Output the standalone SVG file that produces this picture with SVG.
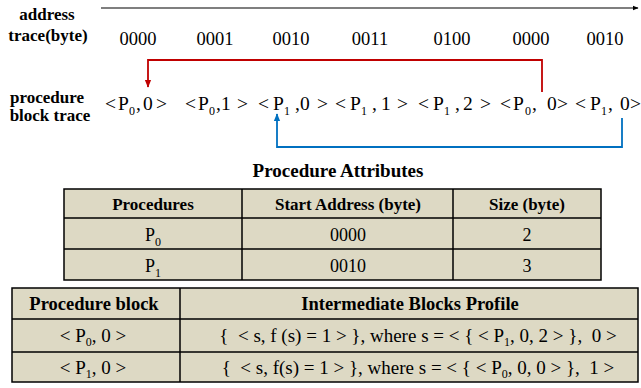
<svg xmlns="http://www.w3.org/2000/svg" width="641" height="388" viewBox="0 0 641 388">
  <style>
    text { font-family: "Liberation Serif", "Times New Roman", serif; fill: #000; }
    .lbl { font-size: 17px; font-weight: bold; text-anchor: middle; }
    .addr { font-size: 18.5px; text-anchor: middle; }
    .tr { font-size: 19.5px; }
    .sub { font-size: 12px; }
    .th { font-size: 17px; font-weight: bold; text-anchor: middle; }
    .th2 { font-size: 18.5px; font-weight: bold; text-anchor: middle; }
    .td { font-size: 18px; text-anchor: middle; }
    .td2 { font-size: 19px; text-anchor: middle; }
    .title { font-size: 19px; font-weight: bold; text-anchor: middle; }
    .cell { fill: #DDD9C4; stroke: #000; stroke-width: 1.5; }
    .grid { stroke: #000; stroke-width: 1.5; fill: none; }
  </style>
  <defs>
    <marker id="headBlack" viewBox="0 0 10 10" refX="9" refY="5" markerWidth="6" markerHeight="6" orient="auto" markerUnits="userSpaceOnUse">
      <path d="M0,1 L10,5 L0,9 z" fill="#000"/>
    </marker>
    <marker id="headRed" viewBox="0 0 10 10" refX="9" refY="5" markerWidth="8" markerHeight="8" orient="auto" markerUnits="userSpaceOnUse">
      <path d="M0,1 L10,5 L0,9 z" fill="#C00000"/>
    </marker>
    <marker id="headBlue" viewBox="0 0 10 10" refX="9" refY="5" markerWidth="8" markerHeight="8" orient="auto" markerUnits="userSpaceOnUse">
      <path d="M0,1 L10,5 L0,9 z" fill="#0070C0"/>
    </marker>
  </defs>

  <!-- row labels -->
  <g id="address-label">
    <text class="lbl" x="47" y="20">address</text>
    <text class="lbl" x="48" y="41">trace(byte)</text>
  </g>
  <g id="trace-label">
    <text class="lbl" x="47" y="103">procedure</text>
    <text class="lbl" x="50" y="121">block trace</text>
  </g>

  <!-- address trace values -->
  <g id="address-trace">
    <text class="addr" x="138" y="45">0000</text>
    <text class="addr" x="215" y="45">0001</text>
    <text class="addr" x="291" y="45">0010</text>
    <text class="addr" x="370" y="45">0011</text>
    <text class="addr" x="452" y="45">0100</text>
    <text class="addr" x="531" y="45">0000</text>
    <text class="addr" x="605" y="45">0010</text>
  </g>

  <!-- procedure block trace -->
  <g id="block-trace" class="tr">
    <text x="105" y="110">&lt;<tspan x="118">P</tspan><tspan x="129" dy="5" class="sub">0</tspan><tspan x="136" dy="-5">,</tspan><tspan x="143">0</tspan><tspan x="156">&gt;</tspan></text>
    <text x="185" y="110">&lt;<tspan x="198">P</tspan><tspan x="209" dy="5" class="sub">0</tspan><tspan x="216" dy="-5">,1</tspan><tspan x="237">&gt;</tspan></text>
    <text x="258" y="110">&lt;<tspan x="273">P</tspan><tspan x="284" dy="5" class="sub">1</tspan><tspan x="295" dy="-5">,0</tspan><tspan x="317">&gt;</tspan></text>
    <text x="335" y="110">&lt;<tspan x="350">P</tspan><tspan x="361" dy="5" class="sub">1</tspan><tspan x="372" dy="-5">,</tspan><tspan x="381">1</tspan><tspan x="397">&gt;</tspan></text>
    <text x="418" y="110">&lt;<tspan x="433">P</tspan><tspan x="444" dy="5" class="sub">1</tspan><tspan x="455" dy="-5">,</tspan><tspan x="463">2</tspan><tspan x="480">&gt;</tspan></text>
    <text x="500" y="110">&lt;<tspan x="513">P</tspan><tspan x="525" dy="5" class="sub">0</tspan><tspan x="532" dy="-5">,</tspan><tspan x="547">0</tspan><tspan x="557">&gt;</tspan></text>
    <text x="575" y="110">&lt;<tspan x="590">P</tspan><tspan x="601" dy="5" class="sub">1</tspan><tspan x="608" dy="-5">,</tspan><tspan x="620">0</tspan><tspan x="630">&gt;</tspan></text>
  </g>

  <!-- connectors -->
  <g id="connectors" fill="none">
    <line x1="101" y1="8" x2="638" y2="8" stroke="#000" stroke-width="1.2" marker-end="url(#headBlack)"/>
    <path d="M542,92 V60 H148 V87" stroke="#C00000" stroke-width="1.8" marker-end="url(#headRed)"/>
    <path d="M622,118 V147 H277 V114" stroke="#0070C0" stroke-width="1.8" marker-end="url(#headBlue)"/>
  </g>

  <!-- procedure attributes table -->
  <g id="attributes-table">
    <text class="title" x="338" y="177">Procedure Attributes</text>
    <rect class="cell" x="64" y="189" width="537" height="91"/>
    <path class="grid" d="M64,218 H601 M64,249 H601 M242,189 V280 M453,189 V280"/>
    <text class="th" x="153" y="210">Procedures</text>
    <text class="th" x="348" y="210">Start Address (byte)</text>
    <text class="th" x="527" y="210">Size (byte)</text>
    <text class="td" x="153" y="241">P<tspan class="sub" dy="5">0</tspan></text>
    <text class="td" x="348" y="241">0000</text>
    <text class="td" x="527" y="241">2</text>
    <text class="td" x="153" y="272">P<tspan class="sub" dy="5">1</tspan></text>
    <text class="td" x="348" y="272">0010</text>
    <text class="td" x="527" y="272">3</text>
  </g>

  <!-- intermediate blocks profile table -->
  <g id="profile-table">
    <rect class="cell" x="12" y="288" width="626" height="94"/>
    <path class="grid" d="M12,319 H638 M12,352 H638 M180,288 V382"/>
    <text class="th2" x="94" y="310">Procedure block</text>
    <text class="th2" x="410" y="310">Intermediate Blocks Profile</text>
    <text class="td2" x="93" y="342">&lt; P<tspan class="sub" dy="4">0</tspan><tspan dy="-4">, 0 &gt;</tspan></text>
    <text class="td2" x="93" y="374">&lt; P<tspan class="sub" dy="4">1</tspan><tspan dy="-4">, 0 &gt;</tspan></text>
    <text class="td2" x="418" y="342" xml:space="preserve">{  &lt; s, f (s) = 1 &gt; }, where s = &lt; { &lt; P<tspan class="sub" dy="4">1</tspan><tspan dy="-4">, 0, 2 &gt; },  0 &gt;</tspan></text>
    <text class="td2" x="418" y="374" xml:space="preserve">{  &lt; s, f(s) = 1 &gt; }, where s = &lt; { &lt; P<tspan class="sub" dy="4">0</tspan><tspan dy="-4">, 0, 0 &gt; },  1 &gt;</tspan></text>
  </g>
</svg>
